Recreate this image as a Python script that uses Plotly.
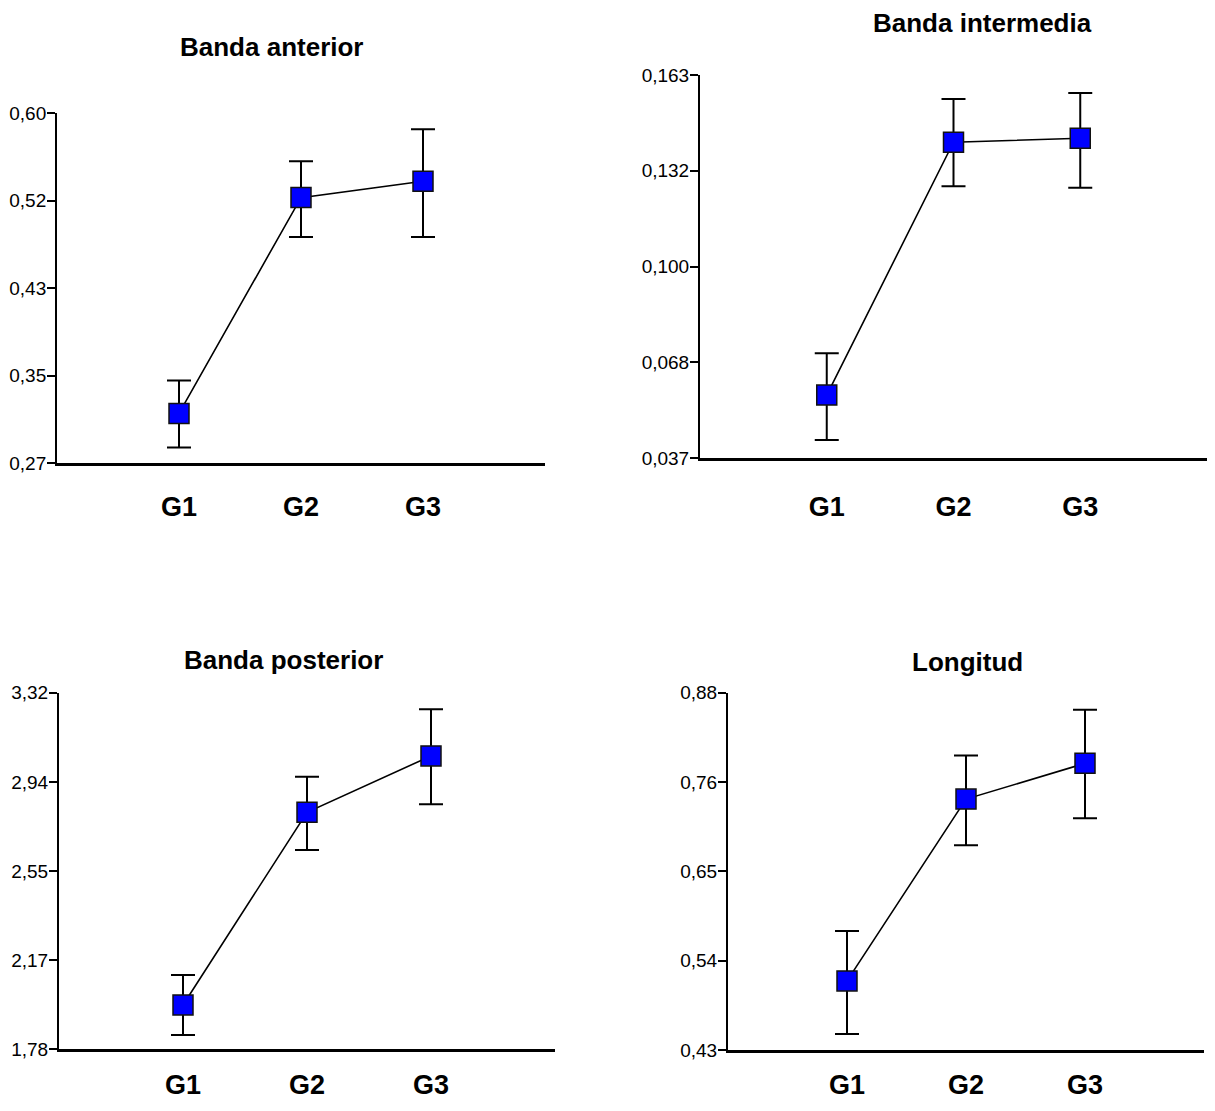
import numpy as np
import plotly.graph_objects as go

W, H = 1215, 1111
OX, OY = 8, 8          # page body margin offset
FW, FH = W - 2 * OX, H - 2 * OY

groups = ["G1", "G2", "G3"]

# Banda anterior
ant_mean = [0.317, 0.5205, 0.536]
ant_up = [0.348, 0.5547, 0.585]
ant_low = [0.285, 0.4834, 0.4834]
ant_ticks = ["0,27", "0,35", "0,43", "0,52", "0,60"]

# Banda intermedia
int_mean = [0.0578, 0.1409, 0.1422]
int_up = [0.0715, 0.1551, 0.1571]
int_low = [0.043, 0.1264, 0.1259]
int_ticks = ["0,037", "0,068", "0,100", "0,132", "0,163"]

# Banda posterior
pos_mean = [1.9715, 2.8036, 3.047]
pos_up = [2.101, 2.957, 3.248]
pos_low = [1.842, 2.641, 2.838]
pos_ticks = ["1,78", "2,17", "2,55", "2,94", "3,32"]

# Longitud
lon_mean = [0.517, 0.746, 0.791]
lon_up = [0.580, 0.801, 0.8586]
lon_low = [0.450, 0.688, 0.722]
lon_ticks = ["0,43", "0,54", "0,65", "0,76", "0,88"]

panels = [
    dict(title="Banda anterior", mean=ant_mean, up=ant_up, low=ant_low, ticks=ant_ticks,
         yr=(0.27, 0.60), xdom=(57, 545), ydom=(113.3, 463.3), tpos=(272, 47),
         dashes=False, standoff=17),
    dict(title="Banda intermedia", mean=int_mean, up=int_up, low=int_low, ticks=int_ticks,
         yr=(0.037, 0.163), xdom=(700, 1215), ydom=(75, 458.3), tpos=(982, 23),
         dashes=True, standoff=22),
    dict(title="Banda posterior", mean=pos_mean, up=pos_up, low=pos_low, ticks=pos_ticks,
         yr=(1.78, 3.32), xdom=(59, 555), ydom=(692.7, 1049.3), tpos=(283, 660),
         dashes=False, standoff=9),
    dict(title="Longitud", mean=lon_mean, up=lon_up, low=lon_low, ticks=lon_ticks,
         yr=(0.43, 0.88), xdom=(728, 1204), ydom=(692.7, 1050), tpos=(967, 662),
         dashes=False, standoff=9),
]


def fx(px):
    return min(1.0, max(0.0, (px - OX) / FW))


def fy(py):
    return min(1.0, max(0.0, 1 - (py - OY) / FH))


fig = go.Figure()
xpos = [1, 2, 3]
annotations = []
layout_axes = {}

for i, p in enumerate(panels, start=1):
    xa = "x" if i == 1 else f"x{i}"
    ya = "y" if i == 1 else f"y{i}"
    mean = np.array(p["mean"])
    up = np.array(p["up"])
    low = np.array(p["low"])
    fig.add_trace(go.Scatter(
        x=xpos, y=mean, xaxis=xa, yaxis=ya, mode="lines+markers",
        line=dict(color="black", width=1.6),
        marker=dict(symbol="square", size=20, color="#0000FF",
                    line=dict(color="#111111", width=1.5)),
        error_y=dict(type="data", symmetric=False, array=up - mean, arrayminus=mean - low,
                     color="black", thickness=2, width=12),
        showlegend=False, hoverinfo="skip", cliponaxis=False,
    ))
    y0, y1 = p["yr"]
    if p["dashes"]:
        fig.add_trace(go.Scatter(
            x=xpos, y=[y0 - (y1 - y0) * 0.041] * 3, xaxis=xa, yaxis=ya, mode="markers",
            marker=dict(symbol="line-ew", size=12, line=dict(color="#b8b8b8", width=2)),
            showlegend=False, hoverinfo="skip", cliponaxis=False,
        ))
    key = "" if i == 1 else str(i)
    layout_axes[f"xaxis{key}"] = dict(
        domain=[fx(p["xdom"][0]), fx(p["xdom"][1])], range=[0, 4],
        anchor=ya, showgrid=False, zeroline=False,
        showline=True, linecolor="black", linewidth=3,
        tickvals=xpos, ticktext=groups, ticks="",
        tickfont=dict(family="Liberation Sans, Arial", size=27,
                      color="black", weight="bold"),
        ticklabelstandoff=p["standoff"], automargin=False,
    )
    layout_axes[f"yaxis{key}"] = dict(
        domain=[fy(p["ydom"][1]), fy(p["ydom"][0])], range=[y0, y1],
        anchor=xa, showgrid=False, zeroline=False,
        showline=True, linecolor="black", linewidth=2,
        tickvals=list(np.linspace(y0, y1, 5)), ticktext=p["ticks"],
        ticks="outside", ticklen=8, tickwidth=1.5, tickcolor="black",
        tickfont=dict(family="Liberation Sans, Arial", size=19, color="black"),
        ticklabelstandoff=-3, automargin=False,
    )
    annotations.append(dict(
        text=f"<b>{p['title']}</b>", x=fx(p["tpos"][0]), y=fy(p["tpos"][1]),
        xref="paper", yref="paper", xanchor="center", yanchor="middle", showarrow=False,
        font=dict(family="Liberation Sans, Arial", size=26, color="black"),
    ))

fig.update_layout(
    width=FW, height=FH, margin=dict(l=0, r=0, t=0, b=0, pad=0, autoexpand=False),
    paper_bgcolor="white", plot_bgcolor="white",
    annotations=annotations, **layout_axes,
)

fig.write_html("out.html")
